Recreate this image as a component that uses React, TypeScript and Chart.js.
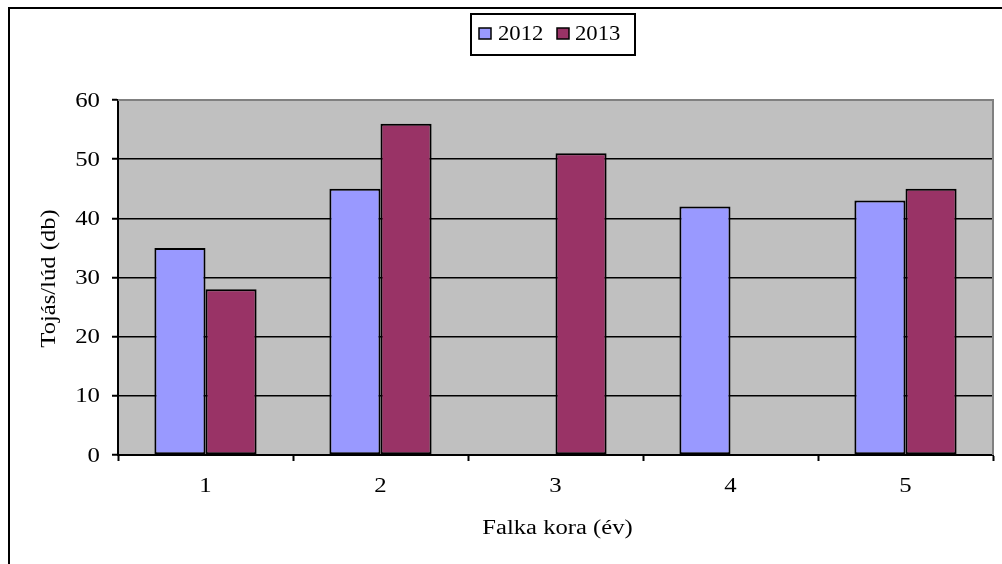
import React, { useEffect, useRef } from "react";
import { Chart, registerables } from "chart.js";

Chart.register(...registerables);

const categories = ["1", "2", "3", "4", "5"];
const series2012 = [35, 45, null, 42, 43];
const series2013 = [28, 56, 51, null, 45];
const seriesLabels = ["2012", "2013"];
const seriesColors = ["#9999FF", "#993366"];
const yTitle = "Tojás/lúd (db)";
const xTitle = "Falka kora (év)";

const FONT = "'Liberation Serif', 'Times New Roman', serif";
const SX = 1.18;

function drawText(ctx: any, text: string, x: number, y: number, size: number, sx: number, align: string, baseline: string, rot = 0) {
  ctx.save();
  ctx.translate(x, y);
  if (rot) ctx.rotate(rot);
  ctx.scale(sx, 1);
  ctx.font = `${size}px ${FONT}`;
  ctx.fillStyle = "#000";
  ctx.textAlign = align;
  ctx.textBaseline = baseline;
  ctx.fillText(text, 0, 0);
  ctx.restore();
}

const framePlugin = {
  id: "frame",
  beforeDraw(chart: any) {
    const { ctx, chartArea: a } = chart;
    ctx.save();
    ctx.fillStyle = "#FFFFFF";
    ctx.fillRect(0, 0, chart.width, chart.height);
    ctx.fillStyle = "#C0C0C0";
    ctx.fillRect(a.left, a.top, a.right - a.left, a.bottom - a.top);
    ctx.strokeStyle = "#000";
    ctx.lineWidth = 2;
    ctx.beginPath();
    ctx.moveTo(9, chart.height + 2);
    ctx.lineTo(9, 8);
    ctx.lineTo(chart.width + 2, 8);
    ctx.stroke();
    ctx.restore();
  },
  afterDraw(chart: any) {
    const { ctx, chartArea: a } = chart;
    ctx.save();
    ctx.strokeStyle = "#808080";
    ctx.lineWidth = 2;
    ctx.beginPath();
    ctx.moveTo(a.left, a.top);
    ctx.lineTo(a.right, a.top);
    ctx.lineTo(a.right, a.bottom);
    ctx.stroke();
    ctx.restore();

    const ys = chart.scales.y;
    ys.ticks.forEach((t: any) => {
      drawText(ctx, String(t.value), a.left - 18, ys.getPixelForValue(t.value) + 1, 21, SX, "right", "middle");
    });
    const xs = chart.scales.x;
    categories.forEach((c, i) => {
      drawText(ctx, c, xs.getPixelForTick(i), 492, 21, SX, "center", "alphabetic");
    });
    drawText(ctx, xTitle, (a.left + a.right) / 2 + 2, 533.5, 20.5, 1.2, "center", "alphabetic");
    drawText(ctx, yTitle, 50, (a.top + a.bottom) / 2 + 1, 20.5, 1.2, "center", "middle", -Math.PI / 2);

    ctx.save();
    const bx = 471, by = 14, bw = 164, bh = 41;
    ctx.fillStyle = "#fff";
    ctx.fillRect(bx, by, bw, bh);
    ctx.strokeStyle = "#000";
    ctx.lineWidth = 2;
    ctx.strokeRect(bx, by, bw, bh);
    const items = [
      { x: 479, tx: 498 },
      { x: 557, tx: 575 },
    ];
    items.forEach((it, i) => {
      ctx.fillStyle = seriesColors[i];
      ctx.fillRect(it.x, 28, 12, 11);
      ctx.lineWidth = 1.5;
      ctx.strokeStyle = "#000";
      ctx.strokeRect(it.x, 28, 12, 11);
      drawText(ctx, seriesLabels[i], it.tx, 39.5, 21, 1.08, "left", "alphabetic");
    });
    ctx.restore();
  },
};

export default function App() {
  const ref = useRef<HTMLCanvasElement | null>(null);
  useEffect(() => {
    if (!ref.current) return;
    const chart = new Chart(ref.current, {
      type: "bar",
      data: {
        labels: categories,
        datasets: [
          {
            label: seriesLabels[0],
            data: series2012,
            backgroundColor: seriesColors[0],
            borderColor: "#000",
            borderWidth: 2,
            borderSkipped: false,
          },
          {
            label: seriesLabels[1],
            data: series2013,
            backgroundColor: seriesColors[1],
            borderColor: "#000",
            borderWidth: 2,
            borderSkipped: false,
          },
        ],
      },
      plugins: [framePlugin],
      options: {
        responsive: false,
        animation: false,
        devicePixelRatio: 1,
        layout: { padding: { left: 0, top: 100, right: 9, bottom: 0 } },
        datasets: {
          bar: { categoryPercentage: 0.584, barPercentage: 1, grouped: true, skipNull: false },
        },
        plugins: {
          legend: { display: false },
          tooltip: { enabled: false },
        },
        scales: {
          x: {
            afterFit(scale: any) {
              scale.height = 564 - 455;
            },
            grid: {
              offset: true,
              drawOnChartArea: false,
              drawTicks: true,
              tickLength: 6,
              tickColor: "#000",
              tickWidth: 2,
            },
            border: { color: "#000", width: 2 },
            ticks: { display: false },
            title: { display: false },
          },
          y: {
            min: 0,
            max: 60,
            afterFit(scale: any) {
              scale.width = 118;
            },
            ticks: { stepSize: 10, display: false },
            grid: {
              color: (c: any) => (c.tick && c.tick.value === 60 ? "rgba(0,0,0,0)" : "#000"),
              lineWidth: 1.5,
              tickLength: 6,
              tickColor: "#000",
              tickWidth: 2,
            },
            border: { color: "#000", width: 2 },
            title: { display: false },
          },
        },
      },
    });
    return () => chart.destroy();
  }, []);
  return (
    <div style={{ position: "fixed", left: 0, top: 0, width: 1002, height: 564 }}>
      <canvas ref={ref} width={1002} height={564} style={{ display: "block" }} />
    </div>
  );
}
